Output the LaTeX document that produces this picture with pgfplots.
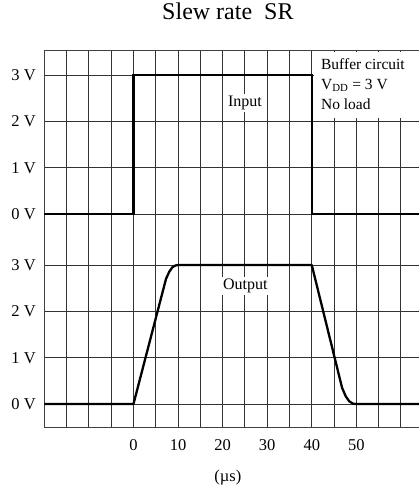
\documentclass[border=0pt]{standalone}
\usepackage{fontspec}
\setmainfont{Liberation Serif}
\usepackage{pgfplots}
\pgfplotsset{compat=1.18}
\begin{document}
\begin{tikzpicture}
\begin{axis}[
 scale only axis, width=374.7pt, height=377.7pt,
 xmin=-20, xmax=64.05, ymin=-0.51, ymax=7.64,
 axis x line*=box, axis y line*=left,
 axis line style={-, black!75, line width=0.9pt},
 xtick={0,10,20,30,40,50},
 minor xtick={-20,-15,...,60},
 ytick={0,1,2,3,4.1,5.1,6.1,7.1},
 yticklabels={0 V,1 V,2 V,3 V,0 V,1 V,2 V,3 V},
 major tick length=0pt, minor tick length=0pt,
 grid=both,
 major grid style={black!80, line width=0.9pt},
 minor grid style={black!80, line width=0.9pt},
 tick label style={font=\fontsize{16.5}{19}\selectfont},
 /pgf/number format/assume math mode=true,
 xticklabel style={anchor=base, yshift=-23pt},
 yticklabel style={anchor=east, xshift=-5pt},
 title={Slew rate\ \ SR},
 title style={at={(0.49,1)}, anchor=base, yshift=24pt, font=\fontsize{24}{26}\selectfont},
 xlabel={(µs)},
 xlabel style={at={(0.49,0)}, anchor=base, yshift=-53.3pt, font=\fontsize{16.5}{19}\selectfont},
 clip=false,
]
\coordinate (A) at (rel axis cs:0,0);
\coordinate (B) at (rel axis cs:1,1);
\fill[white] (axis cs:40.4,6.18) rectangle (axis cs:64.05,7.6);
\addplot[black, line width=2.3pt] coordinates {(-20,4.1)(0,4.1)(0,7.1)(40,7.1)(40,4.1)(64.05,4.1)};
\addplot[black, line width=2.3pt, line join=round] coordinates {(-20,0)(0,0)(7.3,2.7)(8,2.85)(8.7,2.95)(9.4,2.99)(10,3)(40,3)(46.8,0.35)(47.6,0.17)(48.4,0.06)(49.2,0.01)(50,0)(64.05,0)};
\node[fill=white, inner sep=2pt, font=\fontsize{16}{18}\selectfont] at (axis cs:25,6.5) {Input};
\node[fill=white, inner sep=2pt, font=\fontsize{16}{18}\selectfont] at (axis cs:25.1,2.55) {Output};
\node[anchor=base west, align=left, inner sep=0pt, font=\fontsize{15.5}{20}\selectfont] at (axis cs:42.05,6.352) {Buffer circuit\\V\textsubscript{DD} = 3 V\\No load};
\end{axis}
\pgfresetboundingbox
\path[use as bounding box] ([shift={(-44.3pt,-61.3pt)}]A) rectangle ([shift={(0pt,50pt)}]B);
\end{tikzpicture}
\end{document}
